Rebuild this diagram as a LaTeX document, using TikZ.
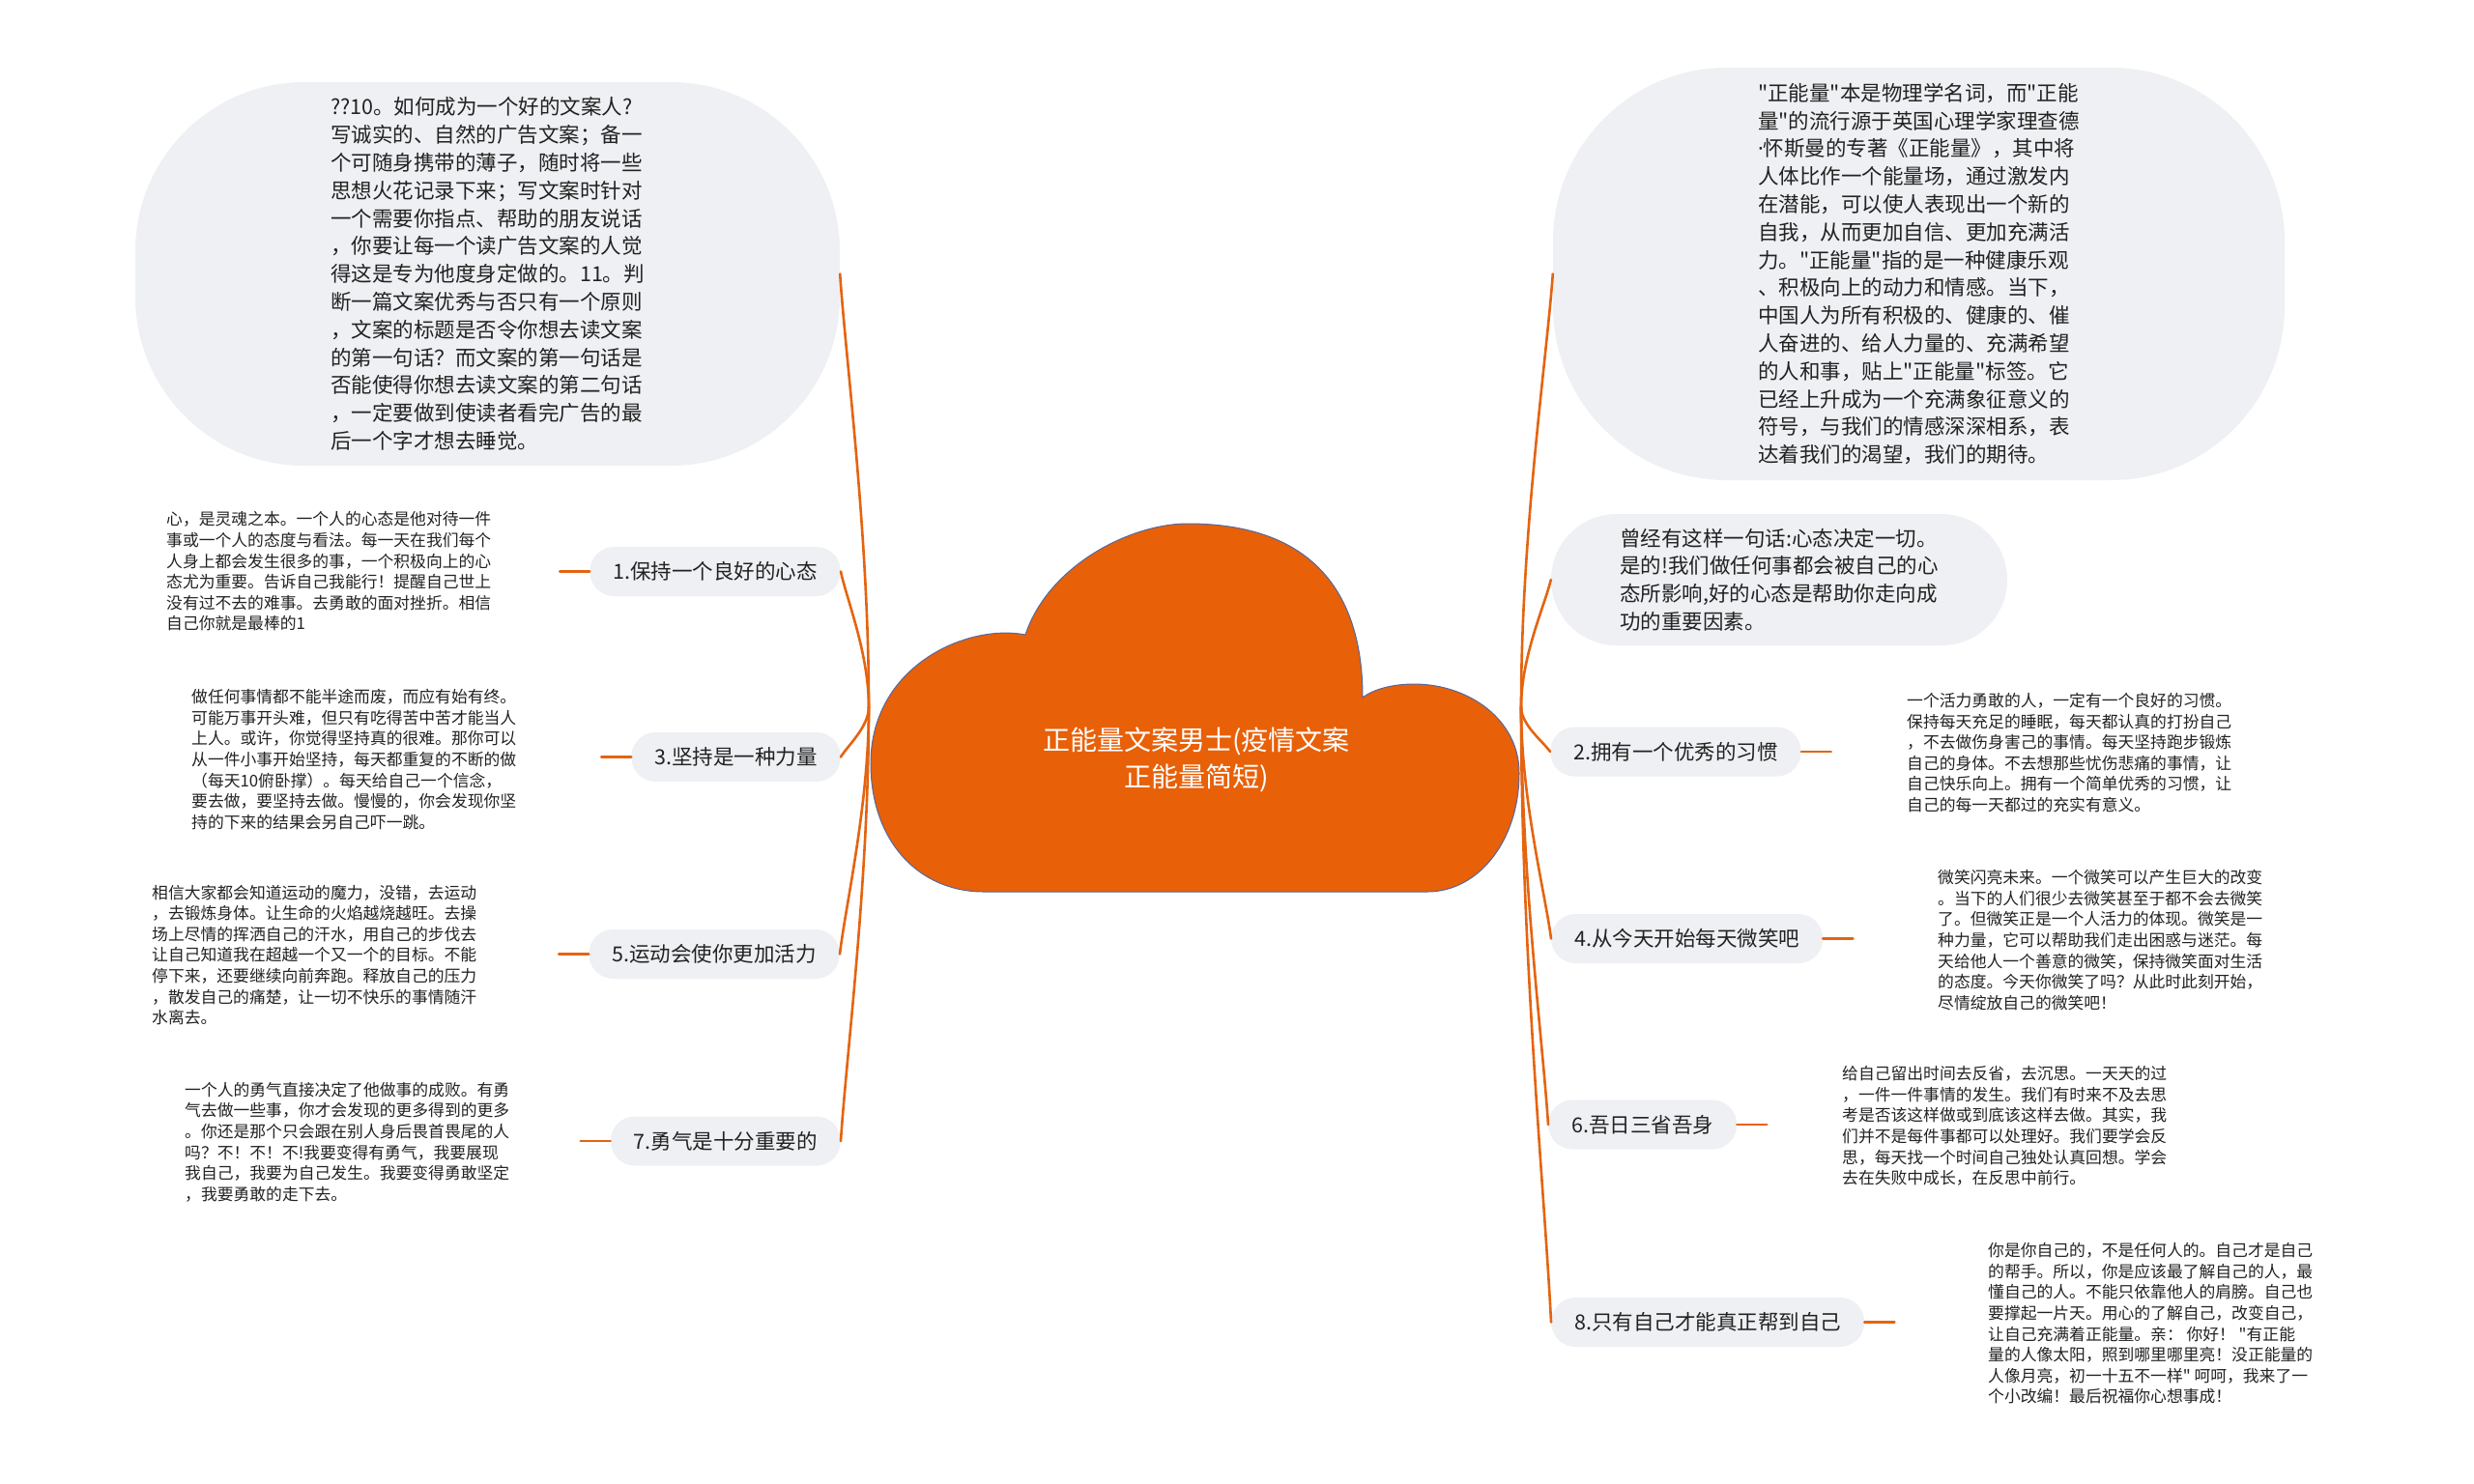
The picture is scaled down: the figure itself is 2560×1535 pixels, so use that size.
\documentclass[tikz,border=0pt]{standalone}
\usepackage{fontspec}
\setmainfont{Noto Sans CJK SC}
\newfontfamily\dotfont{Noto Sans}
\newcommand{\qq}{\textquotedbl}
\usetikzlibrary{calc}
\definecolor{orng}{RGB}{228,100,16}
\definecolor{cloudfill}{RGB}{232,96,8}
\definecolor{cloudline}{RGB}{84,104,160}
\definecolor{bub}{RGB}{238,240,243}
\definecolor{txt}{RGB}{34,34,34}
\begin{document}
\begin{tikzpicture}[x=1pt,y=-1pt,
  pill/.style={fill=bub, rounded corners=25pt, minimum height=51pt, inner xsep=24pt, inner ysep=0pt, font=\fontsize{21.5}{26}\selectfont, text=txt},
  detail/.style={align=left, inner sep=0pt, font=\fontsize{16.8}{21.6}\selectfont, text=txt},
  bigbub/.style={fill=bub, align=left, inner sep=0pt, font=\fontsize{21.5}{28.8}\selectfont, text=txt},
  branch/.style={draw=orng, line width=2.6pt, line cap=round},
  curve/.style={to path={let \p1=(\tikztostart),\p2=(\tikztotarget) in .. controls (\x1,{(\y1)+0.4*((\y2)-(\y1))}) and ({(\x1)+0.8*((\x2)-(\x1))},{(\y1)+0.8*((\y2)-(\y1))}) .. (\tikztotarget)}}
]
\useasboundingbox[fill=white] (0,0) rectangle (2560,1535);

% ---------- left side ----------
\node[bigbub, minimum width=729pt, minimum height=397pt, rounded corners=175pt] (tl) at (504.5,283.5) {??10。如何成为一个好的文案人?\\写诚实的、自然的广告文案；备一\\个可随身携带的薄子，随时将一些\\思想火花记录下来；写文案时针对\\一个需要你指点、帮助的朋友说话\\，你要让每一个读广告文案的人觉\\得这是专为他度身定做的。11。判\\断一篇文案优秀与否只有一个原则\\，文案的标题是否令你想去读文案\\的第一句话？而文案的第一句话是\\否能使得你想去读文案的第二句话\\，一定要做到使读者看完广告的最\\后一个字才想去睡觉。};

\node[pill, anchor=east] (l1) at (870,591.5) {1.保持一个良好的心态};
\node[pill, anchor=east] (l3) at (870,783.5) {3.坚持是一种力量};
\node[pill, anchor=east] (l5) at (869,987.5) {5.运动会使你更加活力};
\node[pill, anchor=east] (l7) at (870,1181) {7.勇气是十分重要的};

\node[detail, anchor=west] (d1) at (172,591.5) {心，是灵魂之本。一个人的心态是他对待一件\\事或一个人的态度与看法。每一天在我们每个\\人身上都会发生很多的事，一个积极向上的心\\态尤为重要。告诉自己我能行！提醒自己世上\\没有过不去的难事。去勇敢的面对挫折。相信\\自己你就是最棒的1};
\node[detail, anchor=west] (d3) at (198,786) {做任何事情都不能半途而废，而应有始有终。\\可能万事开头难，但只有吃得苦中苦才能当人\\上人。或许，你觉得坚持真的很难。那你可以\\从一件小事开始坚持，每天都重复的不断的做\\（每天10俯卧撑）。每天给自己一个信念，\\要去做，要坚持去做。慢慢的，你会发现你坚\\持的下来的结果会另自己吓一跳。};
\node[detail, anchor=west] (d5) at (157,988.5) {相信大家都会知道运动的魔力，没错，去运动\\，去锻炼身体。让生命的火焰越烧越旺。去操\\场上尽情的挥洒自己的汗水，用自己的步伐去\\让自己知道我在超越一个又一个的目标。不能\\停下来，还要继续向前奔跑。释放自己的压力\\，散发自己的痛楚，让一切不快乐的事情随汗\\水离去。};
\node[detail, anchor=west] (d7) at (191,1182) {一个人的勇气直接决定了他做事的成败。有勇\\气去做一些事，你才会发现的更多得到的更多\\。你还是那个只会跟在别人身后畏首畏尾的人\\吗？不！不！不!我要变得有勇气，我要展现\\我自己，我要为自己发生。我要变得勇敢坚定\\，我要勇敢的走下去。};

% ---------- right side ----------
\node[bigbub, minimum width=757pt, minimum height=427pt, rounded corners=180pt] (tr) at (1985.5,283.5) {\qq 正能量\qq 本是物理学名词，而\qq 正能\\量\qq 的流行源于英国心理学家理查德\\{\dotfont ·}怀斯曼的专著《正能量》，其中将\\人体比作一个能量场，通过激发内\\在潜能，可以使人表现出一个新的\\自我，从而更加自信、更加充满活\\力。\qq 正能量\qq 指的是一种健康乐观\\、积极向上的动力和情感。当下，\\中国人为所有积极的、健康的、催\\人奋进的、给人力量的、充满希望\\的人和事，贴上\qq 正能量\qq 标签。它\\已经上升成为一个充满象征意义的\\符号，与我们的情感深深相系，表\\达着我们的渴望，我们的期待。};

\node[bigbub, minimum width=472pt, minimum height=136pt, rounded corners=68pt] (r0) at (1841,600) {曾经有这样一句话:心态决定一切。\\是的!我们做任何事都会被自己的心\\态所影响,好的心态是帮助你走向成\\功的重要因素。};

\node[pill, anchor=west] (r2) at (1604,778) {2.拥有一个优秀的习惯};
\node[pill, anchor=west] (r4) at (1605,971.5) {4.从今天开始每天微笑吧};
\node[pill, anchor=west] (r6) at (1602,1164) {6.吾日三省吾身};
\node[pill, anchor=west] (r8) at (1605,1368.5) {8.只有自己才能真正帮到自己};

\node[detail, anchor=west] (e2) at (1973,779) {一个活力勇敢的人，一定有一个良好的习惯。\\保持每天充足的睡眠，每天都认真的打扮自己\\，不去做伤身害己的事情。每天坚持跑步锻炼\\自己的身体。不去想那些忧伤悲痛的事情，让\\自己快乐向上。拥有一个简单优秀的习惯，让\\自己的每一天都过的充实有意义。};
\node[detail, anchor=west] (e4) at (2005,973) {微笑闪亮未来。一个微笑可以产生巨大的改变\\。当下的人们很少去微笑甚至于都不会去微笑\\了。但微笑正是一个人活力的体现。微笑是一\\种力量，它可以帮助我们走出困惑与迷茫。每\\天给他人一个善意的微笑，保持微笑面对生活\\的态度。今天你微笑了吗？从此时此刻开始，\\尽情绽放自己的微笑吧！};
\node[detail, anchor=west] (e6) at (1906,1165.5) {给自己留出时间去反省，去沉思。一天天的过\\，一件一件事情的发生。我们有时来不及去思\\考是否该这样做或到底该这样去做。其实，我\\们并不是每件事都可以处理好。我们要学会反\\思，每天找一个时间自己独处认真回想。学会\\去在失败中成长，在反思中前行。};
\node[detail, anchor=west] (e8) at (2057,1370) {你是你自己的，不是任何人的。自己才是自己\\的帮手。所以，你是应该最了解自己的人，最\\懂自己的人。不能只依靠他人的肩膀。自己也\\要撑起一片天。用心的了解自己，改变自己，\\让自己充满着正能量。亲：\ 你好！\ \qq 有正能\\量的人像太阳，照到哪里哪里亮！没正能量的\\人像月亮，初一十五不一样\qq\ 呵呵，我来了一\\个小改编！最后祝福你心想事成！};

% ---------- connectors ----------
\coordinate (cl) at (899,732);
\coordinate (cr) at (1574,732);
\foreach \nd in {tl,l1,l3,l5,l7}{\draw[branch] (cl) to[curve] (\nd.east);}
\foreach \nd in {tr,r0,r2,r4,r6,r8}{\draw[branch] (cr) to[curve] (\nd.west);}
\foreach \nd in {l1,l3,l5,l7}{\draw[branch] (\nd.west) -- ++(-31,0);}
\foreach \nd in {r2,r4,r6,r8}{\draw[branch] (\nd.east) -- ++(31,0);}

% ---------- central cloud ----------
\filldraw[fill=cloudfill, draw=cloudline, line width=1pt]
  (1018,923) -- (1477,923)
  .. controls (1530,923) and (1572,870) .. (1572,800)
  .. controls (1572,745) and (1520,708) .. (1463,708)
  .. controls (1440,708) and (1420,714) .. (1410,722)
  .. controls (1410,610) and (1355,542) .. (1229,542)
  .. controls (1170,542) and (1085,585) .. (1061,657)
  .. controls (1000,645) and (901,690) .. (901,790)
  .. controls (901,870) and (950,923) .. (1018,923) -- cycle;
\node[font=\fontsize{28}{38}\selectfont, text=white, align=center, inner sep=0pt] (root) at (1238,786) {正能量文案男士(疫情文案\\正能量简短)};
\end{tikzpicture}
\end{document}
